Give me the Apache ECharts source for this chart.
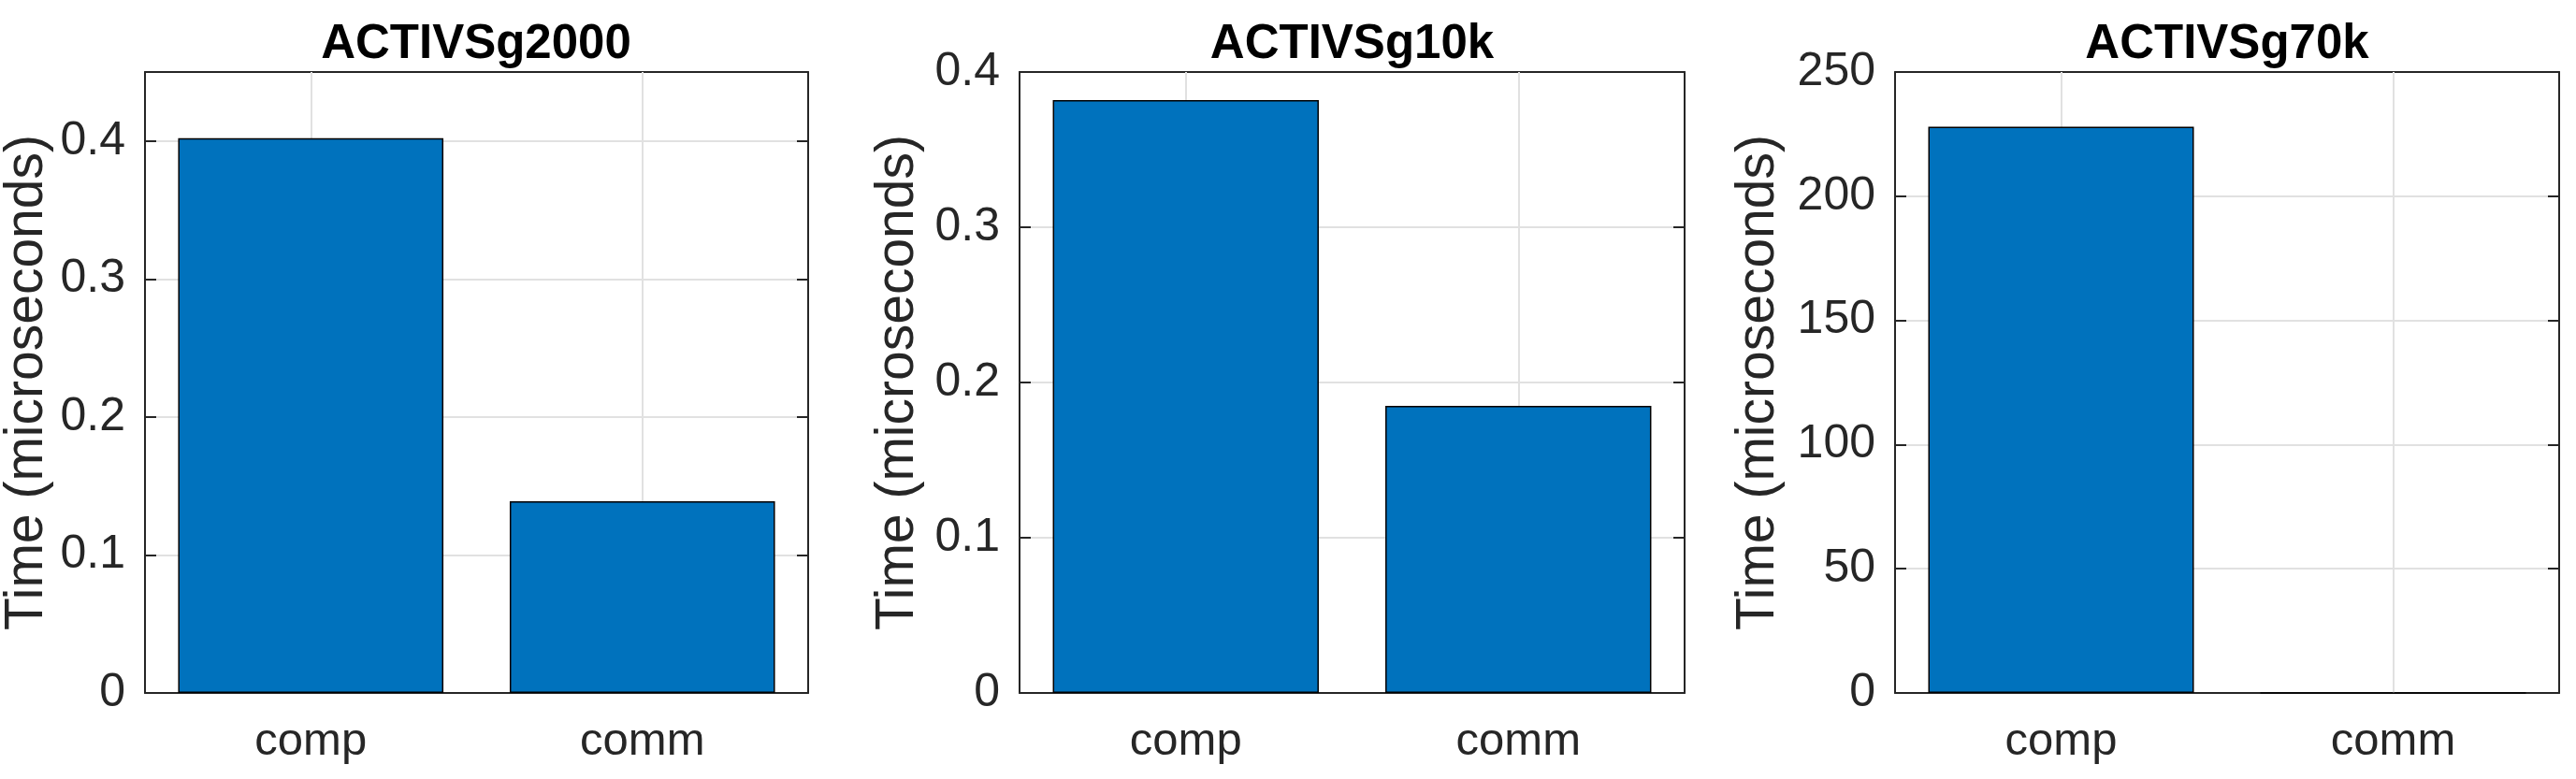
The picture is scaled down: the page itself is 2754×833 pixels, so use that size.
<!DOCTYPE html>
<html lang="en">
<head>
    <meta charset="UTF-8">
    <title>ACTIVSg timing</title>
    <script src="https://cdn.jsdelivr.net/npm/echarts@6/dist/echarts.min.js"></script>
    <style>
        body { margin: 0; background: #fff; }
        #main { width: 2754px; height: 833px; }
    </style>
</head>
<body>
<div id="main"></div>

<script type="text/javascript">
    // data
    var categories = ['comp', 'comm'];
    var titles = ['ACTIVSg2000', 'ACTIVSg10k', 'ACTIVSg70k'];
    var times2000 = [0.402, 0.139];
    var times10k = [0.382, 0.185];
    var times70k = [228, 0];
    var yMax = [0.45, 0.4, 250];
    var yStep = [0.1, 0.1, 50];
    var yLabel = 'Time (microseconds)';

    // panel layout (pixels)
    var gridLeft = [154, 1090, 2026];
    var gridWidth = [710, 711, 710];
    var gridTop = 77;
    var gridHeight = 664;
    var nameGaps = [97, 101, 117];

    var font = "'Liberation Sans', Arial, Helvetica, sans-serif";
    var axisColor = '#262626';
    var gridColor = '#e1e1e1';
    var allTimes = [times2000, times10k, times70k];

    var myChart = echarts.init(document.getElementById('main'));

    var option = {
        animation: false,
        backgroundColor: '#fff',
        title: [],
        grid: [],
        xAxis: [],
        yAxis: [],
        series: []
    };

    for (var i = 0; i < 3; i++) {
        var maxIsTick = Math.abs(yMax[i] / yStep[i] - Math.round(yMax[i] / yStep[i])) < 1e-9;

        option.title.push({
            text: titles[i],
            left: gridLeft[i] + gridWidth[i] / 2,
            textAlign: 'center',
            top: 22,
            padding: 0,
            textStyle: {
                fontFamily: font,
                fontSize: 51,
                fontWeight: 'bold',
                color: '#000',
                lineHeight: 51
            }
        });

        option.grid.push({
            left: gridLeft[i],
            top: gridTop,
            width: gridWidth[i],
            height: gridHeight,
            containLabel: false
        });

        // bottom category axis
        option.xAxis.push({
            type: 'category',
            gridIndex: i,
            data: categories,
            position: 'bottom',
            axisLine: { show: true, lineStyle: { color: axisColor, width: 2 } },
            axisTick: { show: true, inside: true, alignWithLabel: true, length: 12,
                lineStyle: { color: axisColor, width: 2 } },
            axisLabel: { fontFamily: font, fontSize: 49, color: axisColor, margin: 28, lineHeight: 49 },
            splitLine: { show: false }
        });
        // top copy, only for the box and ticks
        option.xAxis.push({
            type: 'category',
            gridIndex: i,
            data: categories,
            position: 'top',
            axisLine: { show: true, onZero: false, lineStyle: { color: axisColor, width: 2 } },
            axisTick: { show: true, inside: true, alignWithLabel: true, length: 12,
                lineStyle: { color: axisColor, width: 2 } },
            axisLabel: { show: false },
            splitLine: { show: false }
        });

        option.yAxis.push({
            type: 'value',
            gridIndex: i,
            min: 0,
            max: yMax[i],
            interval: yStep[i],
            position: 'left',
            name: yLabel,
            nameLocation: 'middle',
            nameGap: nameGaps[i],
            nameTextStyle: { fontFamily: font, fontSize: 57, color: axisColor, lineHeight: 57 },
            axisLine: { show: true, lineStyle: { color: axisColor, width: 2 } },
            axisTick: { show: true, inside: true, length: 12, lineStyle: { color: axisColor, width: 2 } },
            axisLabel: { fontFamily: font, fontSize: 50, color: axisColor, margin: 21,
                padding: [6, 0, 0, 0], showMaxLabel: maxIsTick },
            splitLine: { show: true, showMinLine: false, showMaxLine: false,
                lineStyle: { color: gridColor, width: 2 } }
        });
        option.yAxis.push({
            type: 'value',
            gridIndex: i,
            min: 0,
            max: yMax[i],
            interval: yStep[i],
            position: 'right',
            axisLine: { show: true, onZero: false, lineStyle: { color: axisColor, width: 2 } },
            axisTick: { show: true, inside: true, length: 12, lineStyle: { color: axisColor, width: 2 } },
            axisLabel: { show: false },
            splitLine: { show: false }
        });

        option.series.push({
            type: 'bar',
            xAxisIndex: 2 * i,
            yAxisIndex: 2 * i,
            data: allTimes[i],
            barWidth: '80%',
            z: 2,
            itemStyle: { color: '#0072BD', borderColor: '#000', borderWidth: 1.5 },
            // vertical grid lines at the category centres, kept under the bars
            markLine: {
                z: 1,
                silent: true,
                symbol: 'none',
                label: { show: false },
                lineStyle: { color: gridColor, width: 2, type: 'solid' },
                data: [{ xAxis: categories[0] }, { xAxis: categories[1] }]
            }
        });
    }

    myChart.setOption(option);
</script>
</body>
</html>
